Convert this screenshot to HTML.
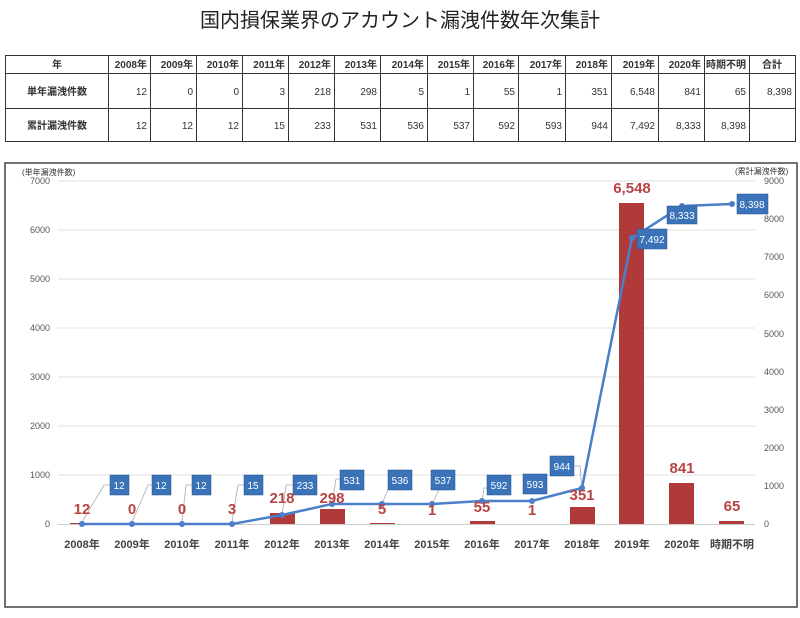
<!DOCTYPE html>
<html><head><meta charset="utf-8"><style>
body{margin:0;background:#fff;width:800px;height:613px;overflow:hidden;font-family:"Liberation Sans","Noto Sans CJK JP",sans-serif}
</style></head><body>
<svg width="800" height="613" xmlns="http://www.w3.org/2000/svg" font-family="Liberation Sans, Noto Sans CJK JP, sans-serif">
<text x="400" y="27" font-size="20" text-anchor="middle" fill="#222">国内損保業界のアカウント漏洩件数年次集計</text>
<g stroke="#333" stroke-width="1" fill="none">
<rect x="5.5" y="55.5" width="790" height="86"/>
<line x1="5" y1="73.5" x2="795" y2="73.5"/>
<line x1="5" y1="108.5" x2="795" y2="108.5"/>
<line x1="108.5" y1="55" x2="108.5" y2="141"/>
<line x1="150.5" y1="55" x2="150.5" y2="141"/>
<line x1="196.5" y1="55" x2="196.5" y2="141"/>
<line x1="242.5" y1="55" x2="242.5" y2="141"/>
<line x1="288.5" y1="55" x2="288.5" y2="141"/>
<line x1="334.5" y1="55" x2="334.5" y2="141"/>
<line x1="380.5" y1="55" x2="380.5" y2="141"/>
<line x1="427.5" y1="55" x2="427.5" y2="141"/>
<line x1="473.5" y1="55" x2="473.5" y2="141"/>
<line x1="518.5" y1="55" x2="518.5" y2="141"/>
<line x1="565.5" y1="55" x2="565.5" y2="141"/>
<line x1="611.5" y1="55" x2="611.5" y2="141"/>
<line x1="658.5" y1="55" x2="658.5" y2="141"/>
<line x1="704.5" y1="55" x2="704.5" y2="141"/>
<line x1="749.5" y1="55" x2="749.5" y2="141"/>
</g>
<g font-size="10" font-weight="bold" fill="#333">
<text x="57" y="68" text-anchor="middle">年</text>
<text x="57" y="95" text-anchor="middle">単年漏洩件数</text>
<text x="57" y="129" text-anchor="middle">累計漏洩件数</text>
<g text-anchor="end">
<text x="147" y="68">2008年</text><text x="193" y="68">2009年</text><text x="239" y="68">2010年</text><text x="285" y="68">2011年</text><text x="331" y="68">2012年</text><text x="377" y="68">2013年</text><text x="424" y="68">2014年</text><text x="470" y="68">2015年</text><text x="515" y="68">2016年</text><text x="562" y="68">2017年</text><text x="608" y="68">2018年</text><text x="655" y="68">2019年</text><text x="701" y="68">2020年</text><text x="746" y="68">時期不明</text>
</g>
<text x="772" y="68" text-anchor="middle">合計</text>
<g text-anchor="end" font-weight="normal">
<text x="147" y="95">12</text><text x="193" y="95">0</text><text x="239" y="95">0</text><text x="285" y="95">3</text><text x="331" y="95">218</text><text x="377" y="95">298</text><text x="424" y="95">5</text><text x="470" y="95">1</text><text x="515" y="95">55</text><text x="562" y="95">1</text><text x="608" y="95">351</text><text x="655" y="95">6,548</text><text x="701" y="95">841</text><text x="746" y="95">65</text><text x="792" y="95">8,398</text>
<text x="147" y="129">12</text><text x="193" y="129">12</text><text x="239" y="129">12</text><text x="285" y="129">15</text><text x="331" y="129">233</text><text x="377" y="129">531</text><text x="424" y="129">536</text><text x="470" y="129">537</text><text x="515" y="129">592</text><text x="562" y="129">593</text><text x="608" y="129">944</text><text x="655" y="129">7,492</text><text x="701" y="129">8,333</text><text x="746" y="129">8,398</text>
</g></g>
<rect x="5" y="163" width="792" height="444" fill="none" stroke="#444" stroke-width="1.5"/>
<text x="22" y="175" font-size="8" fill="#333">(単年漏洩件数)</text>
<text x="735" y="174" font-size="8" fill="#333">(累計漏洩件数)</text>
<g stroke="#e0e0e0" stroke-width="1">
<line x1="58" y1="181" x2="755" y2="181"/><line x1="58" y1="230" x2="755" y2="230"/><line x1="58" y1="279" x2="755" y2="279"/><line x1="58" y1="328" x2="755" y2="328"/><line x1="58" y1="377" x2="755" y2="377"/><line x1="58" y1="426" x2="755" y2="426"/><line x1="58" y1="475" x2="755" y2="475"/>
</g>
<line x1="58" y1="524.5" x2="755" y2="524.5" stroke="#ccc"/>
<g font-size="9" fill="#555" text-anchor="end">
<text x="50" y="184">7000</text><text x="50" y="233">6000</text><text x="50" y="282">5000</text><text x="50" y="331">4000</text><text x="50" y="380">3000</text><text x="50" y="429">2000</text><text x="50" y="478">1000</text><text x="50" y="527">0</text>
</g>
<g font-size="9" fill="#555">
<text x="764" y="184">9000</text><text x="764" y="222">8000</text><text x="764" y="260">7000</text><text x="764" y="298">6000</text><text x="764" y="337">5000</text><text x="764" y="375">4000</text><text x="764" y="413">3000</text><text x="764" y="451">2000</text><text x="764" y="489">1000</text><text x="764" y="527">0</text>
</g>
<g fill="#b03a3a">
<rect x="70" y="523" width="25" height="1"/>
<rect x="270" y="513" width="25" height="11"/>
<rect x="320" y="509" width="25" height="15"/>
<rect x="370" y="523" width="25" height="1"/>
<rect x="470" y="521" width="25" height="3"/>
<rect x="570" y="507" width="25" height="17"/>
<rect x="619" y="203" width="25" height="321"/>
<rect x="669" y="483" width="25" height="41"/>
<rect x="719" y="521" width="25" height="3"/>
</g>
<g stroke="#aaa" stroke-width="0.8" fill="none">
<path d="M82 522 L104 485 L112 485"/><path d="M132 522 L148 485 L153 485"/><path d="M182 522 L186 485 L193 485"/><path d="M232 522 L238 485 L245 485"/><path d="M282 516 L286 485 L294 485"/><path d="M332 504 L336 479 L342 479"/><path d="M382 504 L392 480"/><path d="M432 504 L440 488"/><path d="M482 502 L484 488 L488 488"/><path d="M582 491 L580 466 L572 466"/>
</g>
<polyline points="82,524 132,524 182,524 232,524 282,515 332,504 382,504 432,504 482,501 532,501 582,488 632,238 682,206 732,204" fill="none" stroke="#4a7fc9" stroke-width="2.5"/>
<g fill="#4a7fc9">
<circle cx="82" cy="524" r="3"/><circle cx="132" cy="524" r="3"/><circle cx="182" cy="524" r="3"/><circle cx="232" cy="524" r="3"/><circle cx="282" cy="515" r="3"/><circle cx="332" cy="504" r="3"/><circle cx="382" cy="504" r="3"/><circle cx="432" cy="504" r="3"/><circle cx="482" cy="501" r="3"/><circle cx="532" cy="501" r="3"/><circle cx="582" cy="488" r="3"/><circle cx="632" cy="238" r="3"/><circle cx="682" cy="206" r="3"/><circle cx="732" cy="204" r="3"/>
</g>
<g fill="#3b73b9" stroke="#24518a" stroke-width="0.5">
<rect x="110" y="475" width="19" height="20"/><rect x="152" y="475" width="19" height="20"/><rect x="192" y="475" width="19" height="20"/><rect x="244" y="475" width="19" height="20"/><rect x="293" y="475" width="24" height="20"/><rect x="340" y="470" width="24" height="20"/><rect x="388" y="470" width="24" height="20"/><rect x="431" y="470" width="24" height="20"/><rect x="487" y="475" width="24" height="20"/><rect x="523" y="474" width="24" height="20"/><rect x="550" y="456" width="24" height="20"/><rect x="637" y="229" width="30" height="20"/><rect x="667" y="206" width="30" height="18"/><rect x="737" y="194" width="31" height="20"/>
</g>
<g fill="#fff" font-size="10" text-anchor="middle">
<text x="119" y="489">12</text><text x="161" y="489">12</text><text x="201" y="489">12</text><text x="253" y="489">15</text><text x="305" y="489">233</text><text x="352" y="484">531</text><text x="400" y="484">536</text><text x="443" y="484">537</text><text x="499" y="489">592</text><text x="535" y="488">593</text><text x="562" y="470">944</text><text x="652" y="243">7,492</text><text x="682" y="219">8,333</text><text x="752" y="208">8,398</text>
</g>
<g fill="#b84444" font-size="15" font-weight="bold" text-anchor="middle">
<text x="82" y="514">12</text><text x="132" y="514">0</text><text x="182" y="514">0</text><text x="232" y="514">3</text><text x="282" y="503">218</text><text x="332" y="503">298</text><text x="382" y="514">5</text><text x="432" y="515">1</text><text x="482" y="512">55</text><text x="532" y="515">1</text><text x="582" y="500">351</text><text x="632" y="193">6,548</text><text x="682" y="473">841</text><text x="732" y="511">65</text>
</g>
<g fill="#444" font-size="11" font-weight="bold" text-anchor="middle">
<text x="82" y="548">2008年</text><text x="132" y="548">2009年</text><text x="182" y="548">2010年</text><text x="232" y="548">2011年</text><text x="282" y="548">2012年</text><text x="332" y="548">2013年</text><text x="382" y="548">2014年</text><text x="432" y="548">2015年</text><text x="482" y="548">2016年</text><text x="532" y="548">2017年</text><text x="582" y="548">2018年</text><text x="632" y="548">2019年</text><text x="682" y="548">2020年</text><text x="732" y="548">時期不明</text>
</g>
</svg>
</body></html>
